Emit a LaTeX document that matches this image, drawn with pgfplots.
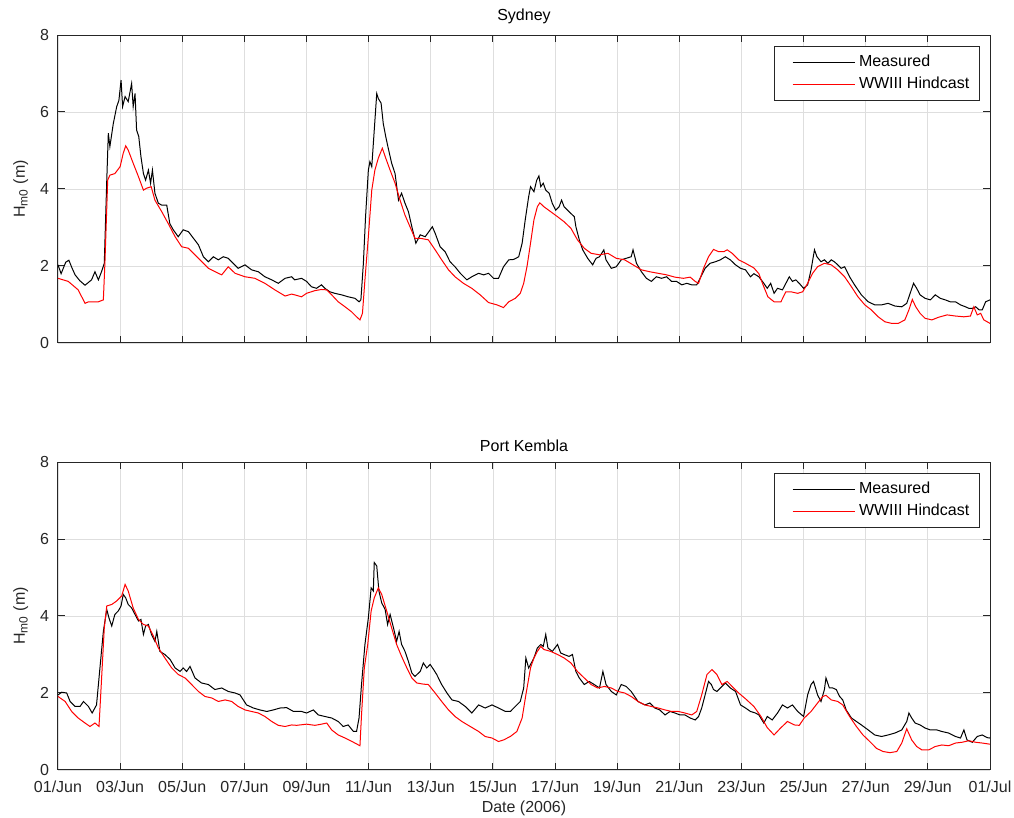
\documentclass[border=0pt]{standalone}
\usepackage{fontspec}
\setmainfont{Liberation Sans}
\usepackage{pgfplots}
\usepackage{pgfplotstable}
\pgfplotsset{compat=1.18}

\definecolor{axgray}{RGB}{38,38,38}
\definecolor{gridgray}{RGB}{222,222,222}

% Sydney, measured and WWIII hindcast (day from 01/Jun, Hm0 in m)
\pgfplotstableread{
d h
0.00 2.03
0.10 1.80
0.25 2.10
0.35 2.15
0.45 1.95
0.55 1.77
0.70 1.62
0.87 1.50
1.08 1.64
1.19 1.85
1.30 1.64
1.40 1.85
1.49 2.07
1.57 4.23
1.62 5.45
1.67 5.10
1.78 5.70
1.89 6.14
1.96 6.30
2.03 6.83
2.08 6.14
2.16 6.40
2.26 6.27
2.37 6.74
2.42 6.14
2.48 6.48
2.53 5.53
2.60 5.36
2.67 4.84
2.75 4.40
2.82 4.23
2.91 4.49
2.98 4.15
3.04 4.49
3.12 3.89
3.23 3.63
3.34 3.58
3.50 3.58
3.60 3.10
3.71 2.94
3.87 2.76
4.03 2.94
4.20 2.89
4.36 2.72
4.52 2.55
4.68 2.24
4.84 2.11
5.00 2.24
5.16 2.16
5.32 2.24
5.48 2.20
5.64 2.07
5.80 1.94
6.02 2.03
6.23 1.90
6.45 1.85
6.66 1.72
6.88 1.64
7.09 1.55
7.31 1.68
7.52 1.72
7.62 1.64
7.84 1.68
8.00 1.60
8.16 1.46
8.32 1.42
8.48 1.51
8.59 1.42
8.75 1.33
8.91 1.29
9.13 1.25
9.34 1.20
9.56 1.16
9.69 1.07
9.75 1.12
9.83 2.07
9.90 3.28
9.99 4.49
10.04 4.71
10.10 4.58
10.18 5.53
10.26 6.48
10.31 6.35
10.40 6.23
10.47 5.70
10.55 5.36
10.63 5.06
10.74 4.67
10.85 4.40
10.96 3.71
11.06 3.89
11.17 3.63
11.28 3.41
11.39 3.02
11.52 2.59
11.66 2.81
11.82 2.76
11.98 2.94
12.05 3.02
12.14 2.85
12.30 2.50
12.46 2.37
12.62 2.11
12.78 1.98
12.95 1.81
13.16 1.64
13.32 1.72
13.54 1.81
13.70 1.77
13.86 1.81
14.02 1.68
14.18 1.68
14.34 1.98
14.51 2.16
14.67 2.17
14.83 2.24
14.94 2.59
15.04 3.20
15.15 3.80
15.21 4.06
15.32 3.93
15.41 4.23
15.48 4.34
15.54 4.06
15.62 4.15
15.70 3.97
15.81 3.89
15.91 3.63
16.02 3.45
16.13 3.54
16.21 3.71
16.29 3.54
16.45 3.41
16.62 3.28
16.67 3.02
16.78 2.68
16.89 2.42
17.05 2.20
17.21 2.03
17.32 2.20
17.43 2.24
17.57 2.42
17.64 2.16
17.81 1.94
17.97 1.98
18.13 2.16
18.29 2.20
18.45 2.24
18.51 2.42
18.62 2.07
18.78 1.85
18.94 1.68
19.10 1.60
19.26 1.72
19.43 1.68
19.59 1.72
19.75 1.60
19.91 1.60
20.08 1.51
20.24 1.55
20.40 1.51
20.56 1.51
20.67 1.68
20.83 1.94
20.99 2.07
21.16 2.11
21.32 2.16
21.48 2.24
21.64 2.16
21.81 2.03
21.97 1.94
22.13 1.90
22.29 1.72
22.40 1.80
22.56 1.72
22.72 1.55
22.83 1.42
22.94 1.55
23.05 1.29
23.16 1.42
23.32 1.38
23.43 1.55
23.54 1.72
23.64 1.60
23.75 1.64
23.86 1.55
24.00 1.42
24.13 1.51
24.24 1.90
24.35 2.42
24.43 2.24
24.56 2.11
24.67 2.16
24.78 2.07
24.89 2.16
24.99 2.11
25.10 2.03
25.21 1.94
25.32 1.98
25.48 1.72
25.64 1.51
25.86 1.25
26.08 1.07
26.29 0.99
26.51 0.99
26.72 1.03
26.94 0.96
27.16 0.94
27.32 1.03
27.43 1.29
27.54 1.55
27.64 1.42
27.75 1.25
27.91 1.16
28.08 1.12
28.24 1.25
28.40 1.16
28.56 1.12
28.72 1.07
28.89 1.07
29.05 0.99
29.21 0.94
29.32 0.90
29.43 0.90
29.54 0.94
29.65 0.86
29.75 0.86
29.86 1.07
30.00 1.12
}\sydmeas

\pgfplotstableread{
d h
0.00 1.68
0.33 1.60
0.65 1.38
0.87 1.03
0.98 1.07
1.30 1.07
1.46 1.12
1.51 2.07
1.60 4.23
1.67 4.36
1.83 4.40
2.00 4.58
2.10 4.93
2.18 5.12
2.26 5.01
2.42 4.67
2.59 4.32
2.75 3.97
2.85 4.02
3.00 4.06
3.12 3.71
3.34 3.41
3.55 3.10
3.77 2.76
3.98 2.50
4.20 2.46
4.52 2.20
4.84 1.94
5.16 1.81
5.27 1.77
5.48 1.98
5.70 1.81
6.02 1.72
6.34 1.68
6.66 1.55
6.98 1.38
7.31 1.22
7.52 1.27
7.62 1.25
7.84 1.20
8.00 1.29
8.27 1.36
8.48 1.39
8.65 1.38
8.81 1.25
9.02 1.07
9.24 0.94
9.45 0.81
9.61 0.68
9.72 0.60
9.80 0.77
9.88 1.64
9.99 2.76
10.10 3.97
10.20 4.49
10.31 4.80
10.44 5.06
10.55 4.80
10.69 4.49
10.85 4.15
11.01 3.71
11.17 3.32
11.33 3.02
11.49 2.72
11.66 2.72
11.92 2.68
12.14 2.42
12.35 2.16
12.57 1.90
12.78 1.72
13.05 1.55
13.32 1.42
13.59 1.25
13.86 1.05
14.13 0.99
14.34 0.92
14.51 1.07
14.72 1.16
14.88 1.29
14.99 1.55
15.10 2.00
15.21 2.59
15.32 3.20
15.43 3.54
15.51 3.64
15.64 3.54
15.86 3.41
16.08 3.28
16.29 3.15
16.51 2.98
16.72 2.68
16.94 2.46
17.16 2.33
17.43 2.29
17.70 2.33
17.97 2.20
18.24 2.16
18.51 2.03
18.78 1.90
19.05 1.85
19.32 1.81
19.59 1.77
19.86 1.71
20.13 1.68
20.35 1.71
20.51 1.60
20.62 1.55
20.78 1.94
20.94 2.24
21.10 2.43
21.27 2.37
21.43 2.37
21.54 2.42
21.70 2.33
21.91 2.16
22.13 2.07
22.40 1.95
22.56 1.80
22.70 1.50
22.85 1.20
23.05 1.07
23.27 1.07
23.43 1.33
23.59 1.33
23.81 1.29
23.97 1.33
24.13 1.55
24.29 1.81
24.45 1.98
24.67 2.07
24.89 2.03
25.10 1.90
25.32 1.72
25.54 1.46
25.75 1.20
25.97 0.99
26.18 0.86
26.40 0.68
26.62 0.55
26.83 0.51
27.05 0.51
27.26 0.60
27.39 0.86
27.50 1.13
27.61 0.94
27.75 0.77
27.91 0.64
28.13 0.60
28.35 0.67
28.62 0.73
28.89 0.70
29.16 0.68
29.37 0.70
29.48 0.94
29.59 0.73
29.70 0.77
29.80 0.60
30.00 0.51
}\sydhind

% Port Kembla
\pgfplotstableread{
d h
0.00 1.95
0.12 2.02
0.28 2.00
0.39 1.78
0.55 1.65
0.71 1.65
0.82 1.78
0.98 1.65
1.10 1.48
1.24 1.69
1.35 2.65
1.46 3.60
1.57 4.17
1.64 3.95
1.73 3.74
1.83 4.04
1.94 4.13
2.03 4.26
2.10 4.56
2.18 4.47
2.26 4.30
2.37 4.21
2.48 4.04
2.59 3.87
2.67 3.91
2.75 3.52
2.82 3.74
2.91 3.78
3.01 3.52
3.12 3.34
3.18 3.60
3.28 3.08
3.44 3.00
3.61 2.87
3.77 2.65
3.93 2.56
4.03 2.65
4.14 2.56
4.25 2.69
4.41 2.39
4.62 2.26
4.84 2.22
5.05 2.09
5.27 2.13
5.48 2.04
5.70 2.00
5.86 1.95
6.07 1.69
6.29 1.61
6.50 1.56
6.72 1.52
6.93 1.56
7.15 1.61
7.36 1.62
7.58 1.52
7.84 1.52
8.00 1.48
8.22 1.56
8.38 1.43
8.59 1.39
8.81 1.35
9.02 1.26
9.18 1.13
9.34 1.17
9.51 1.00
9.61 1.00
9.69 1.35
9.77 2.22
9.88 3.26
9.99 3.95
10.08 4.73
10.15 4.65
10.18 5.39
10.26 5.30
10.33 4.65
10.42 4.34
10.53 4.17
10.61 3.78
10.69 4.04
10.80 3.69
10.90 3.34
10.98 3.60
11.06 3.26
11.17 3.08
11.28 2.82
11.39 2.52
11.49 2.43
11.66 2.56
11.76 2.78
11.87 2.65
11.98 2.74
12.09 2.61
12.19 2.48
12.35 2.22
12.52 2.00
12.68 1.82
12.89 1.78
13.11 1.65
13.32 1.48
13.54 1.69
13.75 1.61
13.97 1.69
14.18 1.61
14.40 1.52
14.56 1.52
14.72 1.65
14.88 1.78
14.99 2.13
15.06 2.91
15.15 2.65
15.21 2.74
15.32 2.91
15.43 3.17
15.54 3.26
15.62 3.21
15.70 3.52
15.77 3.17
15.91 3.08
16.08 3.26
16.18 3.04
16.29 3.00
16.45 2.95
16.56 3.00
16.67 2.56
16.78 2.39
16.94 2.22
17.10 2.30
17.26 2.22
17.43 2.13
17.54 2.56
17.64 2.22
17.81 2.04
17.97 1.95
18.13 2.22
18.29 2.17
18.45 2.04
18.67 1.78
18.89 1.69
19.05 1.74
19.21 1.61
19.37 1.56
19.54 1.43
19.70 1.52
19.86 1.48
20.02 1.43
20.18 1.43
20.35 1.35
20.51 1.30
20.62 1.39
20.72 1.61
20.83 1.95
20.94 2.30
21.03 2.22
21.10 2.09
21.21 2.04
21.32 2.13
21.48 2.26
21.64 2.13
21.81 2.04
21.97 1.69
22.13 1.61
22.29 1.52
22.45 1.48
22.56 1.43
22.72 1.22
22.83 1.39
22.99 1.30
23.16 1.48
23.32 1.69
23.48 1.61
23.64 1.69
23.81 1.52
24.00 1.39
24.13 1.95
24.24 2.22
24.32 2.30
24.45 1.95
24.56 1.78
24.67 2.09
24.72 2.39
24.83 2.13
24.94 2.13
25.05 2.09
25.16 1.91
25.26 1.82
25.37 1.56
25.54 1.35
25.70 1.26
25.86 1.17
26.08 1.04
26.29 0.91
26.51 0.87
26.72 0.91
26.94 0.96
27.16 1.04
27.32 1.26
27.39 1.48
27.48 1.35
27.59 1.22
27.75 1.17
27.91 1.09
28.08 1.04
28.29 1.04
28.45 1.00
28.67 0.96
28.89 0.87
29.05 0.83
29.16 1.04
29.26 0.78
29.43 0.72
29.59 0.87
29.75 0.91
29.91 0.84
30.00 0.83
}\pkmeas

\pgfplotstableread{
d h
0.00 1.91
0.23 1.78
0.44 1.52
0.65 1.35
0.87 1.22
1.03 1.13
1.19 1.22
1.32 1.13
1.41 2.48
1.49 3.69
1.57 4.26
1.73 4.30
1.89 4.39
2.05 4.52
2.16 4.82
2.26 4.65
2.42 4.21
2.59 3.91
2.75 3.78
2.91 3.74
3.07 3.48
3.23 3.17
3.44 2.91
3.66 2.65
3.87 2.48
4.09 2.39
4.30 2.22
4.52 2.04
4.73 1.91
4.95 1.87
5.16 1.78
5.38 1.82
5.59 1.78
5.80 1.65
6.02 1.56
6.23 1.52
6.45 1.48
6.66 1.39
6.88 1.26
7.09 1.16
7.31 1.13
7.52 1.17
7.68 1.16
8.00 1.19
8.27 1.16
8.48 1.19
8.65 1.22
8.81 1.04
9.02 0.91
9.24 0.83
9.51 0.72
9.72 0.63
9.77 1.43
9.86 2.65
9.97 3.26
10.08 4.13
10.18 4.47
10.31 4.73
10.42 4.56
10.58 4.13
10.74 3.69
10.90 3.26
11.06 2.95
11.23 2.65
11.39 2.39
11.55 2.26
11.76 2.23
11.92 2.22
12.14 2.00
12.35 1.78
12.57 1.56
12.78 1.39
13.00 1.26
13.27 1.13
13.54 1.00
13.75 0.87
13.97 0.83
14.18 0.74
14.34 0.78
14.56 0.87
14.77 1.00
14.94 1.35
15.06 1.95
15.21 2.65
15.32 2.91
15.43 3.08
15.54 3.21
15.64 3.13
15.86 3.08
16.08 3.00
16.29 2.91
16.51 2.78
16.72 2.56
16.94 2.39
17.16 2.22
17.37 2.13
17.59 2.17
17.81 2.13
18.02 2.04
18.24 2.00
18.45 1.91
18.67 1.78
18.89 1.69
19.10 1.65
19.32 1.61
19.54 1.56
19.75 1.52
19.97 1.52
20.18 1.48
20.40 1.43
20.56 1.52
20.72 1.95
20.89 2.48
21.05 2.61
21.21 2.48
21.37 2.22
21.54 2.30
21.70 2.17
21.91 2.00
22.13 1.85
22.40 1.65
22.62 1.40
22.83 1.10
23.05 0.91
23.26 1.09
23.48 1.26
23.70 1.17
23.86 1.16
24.02 1.35
24.24 1.52
24.45 1.74
24.62 1.91
24.72 1.94
24.89 1.82
25.10 1.78
25.26 1.69
25.48 1.39
25.70 1.13
25.91 0.91
26.13 0.74
26.35 0.56
26.56 0.48
26.78 0.45
27.00 0.48
27.16 0.70
27.32 1.07
27.48 0.78
27.64 0.61
27.81 0.52
28.02 0.52
28.24 0.61
28.45 0.65
28.67 0.63
28.89 0.70
29.10 0.72
29.32 0.76
29.54 0.72
29.75 0.70
30.00 0.67
}\pkhind

\pgfplotsset{
  hsax/.style={
    scale only axis, width=466pt, height=154pt,
    xmin=0, xmax=30, ymin=0, ymax=8,
    xtick={0,2,...,30}, ytick={0,2,...,8},
    grid=major, grid style={gridgray, line width=0.4pt},
    axis line style={axgray, line width=0.5pt},
    tick style={axgray, line width=0.5pt},
    major tick length=3.5pt, tick align=inside, tick pos=both,
    ticklabel style={text=axgray},
    /pgf/number format/assume math mode=true,
    yticklabel style={xshift=-1pt},
    ylabel={H\textsubscript{m0} (m)},
    ylabel style={at={(axis description cs:-0.040,0.5)}, anchor=center, text=axgray},
    every axis title shift=0pt,
    title style={anchor=center, text=black},
    legend style={at={(0.989,0.965)}, anchor=north east, draw=axgray,
      line width=0.5pt, fill=white, inner xsep=3pt, inner ysep=2.5pt,
      row sep=-0.3pt, text=black},
    legend cell align=left,
    legend image code/.code={\path (-6pt,0pt); \draw[#1] (0pt,0pt) -- (31pt,0pt);},
  }
}

\begin{document}
\begin{tikzpicture}[font=\fontsize{8}{9.6}\selectfont]
\path[use as bounding box] (0,0) rectangle (507pt,409pt);

\begin{axis}[hsax, at={(29pt,237.5pt)}, anchor=south west,
  xticklabels={},
  title={Sydney}, title style={at={(axis description cs:0.5,1.060)}}]
\addplot[black, line width=0.5pt] table[x=d, y=h] {\sydmeas};
\addplot[red, line width=0.5pt] table[x=d, y=h] {\sydhind};
\legend{Measured, WWIII Hindcast}
\end{axis}

\begin{axis}[hsax, at={(29pt,24pt)}, anchor=south west,
  xticklabels={01/Jun,03/Jun,05/Jun,07/Jun,09/Jun,11/Jun,13/Jun,15/Jun,17/Jun,19/Jun,21/Jun,23/Jun,25/Jun,27/Jun,29/Jun,01/Jul},
  xticklabel style={yshift=-2pt},
  xlabel={Date (2006)},
  xlabel style={at={(axis description cs:0.5,-0.125)}, anchor=center, text=axgray},
  title={Port Kembla}, title style={at={(axis description cs:0.5,1.052)}}]
\addplot[black, line width=0.5pt] table[x=d, y=h] {\pkmeas};
\addplot[red, line width=0.5pt] table[x=d, y=h] {\pkhind};
\legend{Measured, WWIII Hindcast}
\end{axis}
\end{tikzpicture}
\end{document}
